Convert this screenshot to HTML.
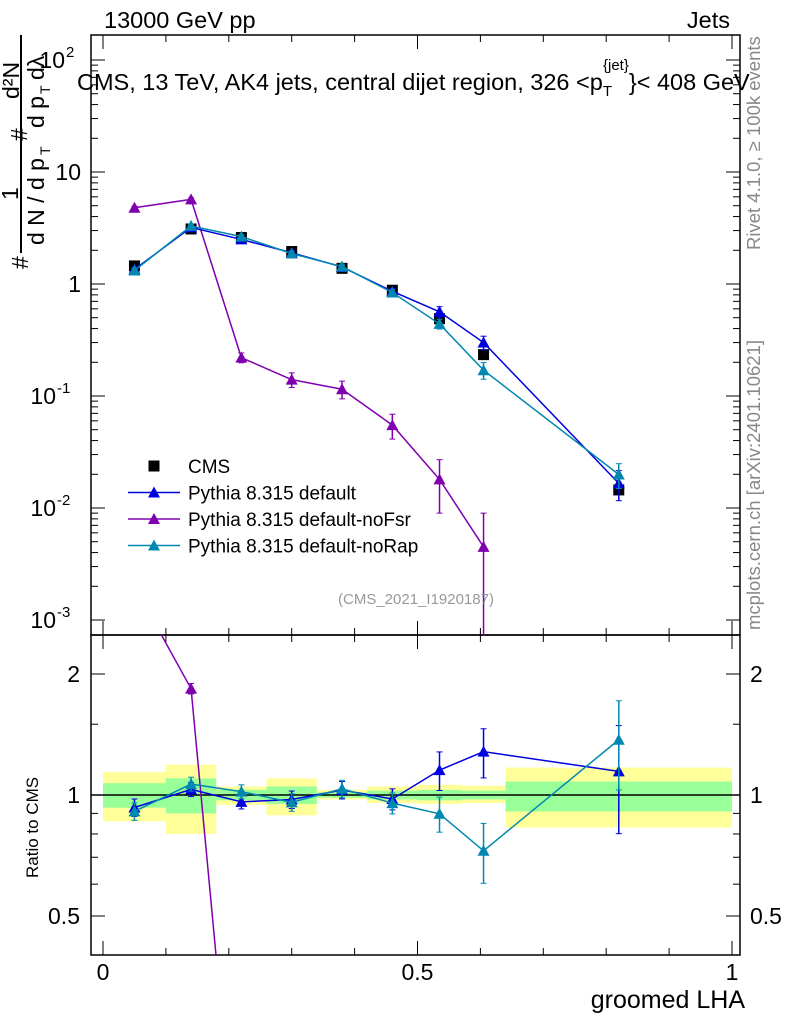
<!DOCTYPE html>
<html><head><meta charset="utf-8"><style>
html,body{margin:0;padding:0;background:#fff;overflow:hidden;width:786px;height:1024px}
svg{display:block;font-family:"Liberation Sans",sans-serif}
</style></head><body>
<svg id="c" width="786" height="1024" viewBox="0 0 786 1024"></svg>
<script>
const xs = [0.05,0.14,0.22,0.30,0.38,0.46,0.535,0.605,0.82];
const binEdges = [0,0.1,0.18,0.26,0.34,0.42,0.5,0.57,0.64,1.0];
const cms = [1.45,3.1,2.6,1.95,1.38,0.88,0.49,0.234,0.0145];
const pyDef = [1.35,3.2,2.5,1.9,1.42,0.86,0.565,0.30,0.0166];
const pyDefErr = [0.05,0.04,0.04,0.05,0.05,0.06,0.11,0.14,0.3];
const pyNoFsr = [4.8,5.7,0.22,0.14,0.115,0.055,0.018,0.0045,null];
const pyNoFsrErr = [0.03,0.03,0.1,0.15,0.18,0.25,0.5,1.0,1.0];
const pyNoRap = [1.32,3.3,2.65,1.87,1.43,0.84,0.44,0.17,0.0199];
const pyNoRapErr = [0.05,0.04,0.04,0.05,0.05,0.06,0.1,0.17,0.25];
const yelLo = [0.86,0.80,0.945,0.89,0.975,0.955,0.95,0.955,0.83];
const yelHi = [1.14,1.19,1.05,1.10,1.03,1.05,1.06,1.055,1.17];
const grnLo = [0.93,0.90,0.97,0.95,0.985,0.975,0.97,0.975,0.91];
const grnHi = [1.07,1.10,1.03,1.05,1.015,1.025,1.03,1.025,1.08];
const mainTicks = [["10","-3"],["10","-2"],["10","-1"],["1",""],["10",""],["10","2"]];
const ratioTicks = ["0.5","1","2"];
const xTicks = ["0","0.5","1"];

const NS="http://www.w3.org/2000/svg", svg=document.getElementById('c');
function el(t,a,p){const e=document.createElementNS(NS,t);for(const k in a)e.setAttribute(k,a[k]);(p||svg).appendChild(e);return e;}
const L=91,R=740,T=35,M=635,B=955;
const X=v=>103+v*629;
const Y=v=>60-(Math.log10(v)-2)*112;
const YR=v=>795-Math.log2(v)*121;

const defs=el('defs',{});
const c1=el('clipPath',{id:'cm'},defs);el('rect',{x:L,y:T,width:R-L,height:M-T},c1);
const c2=el('clipPath',{id:'cr'},defs);el('rect',{x:L,y:M,width:R-L,height:B-M},c2);

const gb=el('g',{'clip-path':'url(#cr)'});
for(let i=0;i<xs.length;i++){
  const x0=X(binEdges[i]),x1=X(binEdges[i+1]);
  const y=el('rect',{x:x0,y:YR(yelHi[i]),width:x1-x0,height:YR(yelLo[i])-YR(yelHi[i]),fill:'#ffff99'},gb);
  
  
  const g=el('rect',{x:x0,y:YR(grnHi[i]),width:x1-x0,height:YR(grnLo[i])-YR(grnHi[i]),fill:'#99ff99'},gb);
  
  
}
el('line',{x1:L,x2:R,y1:YR(1),y2:YR(1),stroke:'#000','stroke-width':1.5},gb);

const fr=el('rect',{x:L,y:T,width:R-L,height:M-T,fill:'none',stroke:'#000','stroke-width':1.5});

const fr2=el('rect',{x:L,y:M,width:R-L,height:B-M,fill:'none',stroke:'#000','stroke-width':1.5});


for(let d=-3;d<=2;d++){
  const y=Y(Math.pow(10,d));
  el('line',{x1:L,x2:L+14,y1:y,y2:y,stroke:'#000'});el('line',{x1:R-14,x2:R,y1:y,y2:y,stroke:'#000'});
  const t=mainTicks[d+3];
  const tx=el('text',{x:81,y:y+8,'font-size':23,'text-anchor':'end'});
  
  tx.textContent=t[0];
  if(t[1]){tx.setAttribute('x',d>=0?65:56);
    const s=el('text',{x:d>=0?66:57,y:y-3,'font-size':15});s.textContent=t[1];
    
  }
  for(let k=2;k<=9;k++){const v=k*Math.pow(10,d);const yy=Y(v);if(yy<T)continue;
    el('line',{x1:L,x2:L+7,y1:yy,y2:yy,stroke:'#000'});el('line',{x1:R-7,x2:R,y1:yy,y2:yy,stroke:'#000'});}
}
for(let i=0;i<=10;i++){const x=X(i/10),big=i%5==0;
  el('line',{x1:x,x2:x,y1:M,y2:M-(big?14:7),stroke:'#000'});el('line',{x1:x,x2:x,y1:T,y2:T+(big?14:7),stroke:'#000'});
  el('line',{x1:x,x2:x,y1:B,y2:B-(big?14:7),stroke:'#000'});el('line',{x1:x,x2:x,y1:M,y2:M+(big?14:7),stroke:'#000'});}
xTicks.forEach((s,i)=>{const t=el('text',{x:X(i*0.5),y:980,'font-size':23,'text-anchor':'middle'});t.textContent=s;
  });
[0.5,1,2].forEach((v,i)=>{const y=YR(v);
  el('line',{x1:L,x2:L+14,y1:y,y2:y,stroke:'#000'});el('line',{x1:R-14,x2:R,y1:y,y2:y,stroke:'#000'});
  const t=el('text',{x:80,y:y+8,'font-size':23,'text-anchor':'end'});t.textContent=ratioTicks[i];
  
  const t2=el('text',{x:750,y:y+8,'font-size':23});t2.textContent=ratioTicks[i];
  });
[0.6,0.7,0.8,0.9,1.5].forEach(v=>{const y=YR(v);el('line',{x1:L,x2:L+7,y1:y,y2:y,stroke:'#000'});el('line',{x1:R-7,x2:R,y1:y,y2:y,stroke:'#000'});});

function tri(g,x,y,c){el('polygon',{points:`${x},${y-6} ${x-6},${y+5} ${x+6},${y+5}`,fill:c},g);}
function series(vals,errs,color,name,isRatio){
  const g=el('g',{'clip-path':isRatio?'url(#cr)':'url(#cm)'});
  
  const pts=[];
  vals.forEach((v,i)=>{if(v==null)return;const val=isRatio?v/cms[i]:v;pts.push([X(xs[i]),isRatio?YR(val):Y(val),val,errs[i]]);});
  el('polyline',{points:pts.map(p=>p[0]+','+p[1]).join(' '),fill:'none',stroke:color,'stroke-width':1.5},g);
  pts.forEach(p=>{const e=p[3],v=p[2];const lo=Math.max(v*(1-e),1e-6),hi=v*(1+e);
    const y1=isRatio?YR(hi):Y(hi),y2=isRatio?YR(lo):Y(lo);
    el('line',{x1:p[0],x2:p[0],y1:y1,y2:y2,stroke:color,'stroke-width':1.5},g);
    el('line',{x1:p[0]-3,x2:p[0]+3,y1:y1,y2:y1,stroke:color},g);el('line',{x1:p[0]-3,x2:p[0]+3,y1:y2,y2:y2,stroke:color},g);
    tri(g,p[0],p[1],color);});
}
const gc=el('g',{'clip-path':'url(#cm)'});
cms.forEach((v,i)=>{el('rect',{x:X(xs[i])-5.5,y:Y(v)-5.5,width:11,height:11,fill:'#000'},gc);});
series(pyNoFsr,pyNoFsrErr,'#8000b0','pythia-nofsr-series',false);
series(pyDef,pyDefErr,'#0000e0','pythia-default-series',false);
series(pyNoRap,pyNoRapErr,'#0088b0','pythia-norap-series',false);
series(pyNoFsr,pyNoFsrErr,'#8000b0','pythia-nofsr-ratio',true);
series(pyDef,pyDefErr,'#0000e0','pythia-default-ratio',true);
series(pyNoRap,pyNoRapErr,'#0088b0','pythia-norap-ratio',true);

const lg=el('g',{});
el('rect',{x:148.5,y:460.5,width:11,height:11,fill:'#000'},lg);
[['CMS',null],['Pythia 8.315 default','#0000e0'],['Pythia 8.315 default-noFsr','#8000b0'],['Pythia 8.315 default-noRap','#0088b0']].forEach((e,i)=>{
  const y=466+i*26.5;
  if(e[1]){el('line',{x1:128,x2:180,y1:y,y2:y,stroke:e[1],'stroke-width':1.5},lg);tri(lg,154,y,e[1]);}
  const t=el('text',{x:188,y:y+7,'font-size':19},lg);t.textContent=e[0];
  });

function txt(s,a,name,p){const t=el('text',a,p);t.textContent=s;return t;}
txt('13000 GeV pp',{x:104,y:28,'font-size':23.5},'beam-label');
txt('Jets',{x:730,y:28,'font-size':23.5,'text-anchor':'end'},'process-label');
const tt=txt('CMS, 13 TeV, AK4 jets, central dijet region, 326 <p',{x:77,y:90,'font-size':23.5},'plot-title');
const ts=el('tspan',{dy:6,'font-size':15},tt);ts.textContent='T';
const ts2=el('tspan',{dy:-26,dx:-9,'font-size':15},tt);ts2.textContent='{jet}';
const ts3=el('tspan',{dy:20,'font-size':23.5},tt);ts3.textContent='}< 408 GeV';
txt('(CMS_2021_I1920187)',{x:416,y:604,'font-size':15,fill:'#999','text-anchor':'middle'},'analysis-id');
txt('groomed LHA',{x:745,y:1008,'font-size':25,'text-anchor':'end'},'x-axis-title');
txt('Ratio to CMS',{x:-878,y:38,'font-size':17,transform:'rotate(-90)'},'ratio-axis-title');
txt('Rivet 4.1.0, \u2265 100k events',{x:-250,y:760,'font-size':18.5,fill:'#888',transform:'rotate(-90)'},'rivet-label');
txt('mcplots.cern.ch [arXiv:2401.10621]',{x:-630,y:760,'font-size':18.5,fill:'#888',transform:'rotate(-90)'},'mcplots-label');
const ya=el('g',{transform:'rotate(-90)'});
el('line',{x1:-253,x2:-35,y1:21,y2:21,stroke:'#000','stroke-width':2},ya);
txt('#',{x:-269,y:28,'font-size':23},'y-title-hash',ya);
txt('1',{x:-200,y:18,'font-size':23},'y-title-one',ya);
txt('d N / d p',{x:-245,y:44,'font-size':23},'y-title-denominator',ya);
txt('T',{x:-155,y:50,'font-size':14},'y-title-sub',ya);
txt('#',{x:-141,y:27,'font-size':23},'y-title-hash2',ya);
txt('d²N',{x:-99,y:19,'font-size':23},'y-title-numerator',ya);
txt('d p',{x:-128,y:44,'font-size':23},'y-title-dp',ya);
txt('T',{x:-94,y:50,'font-size':14},'y-title-sub2',ya);
txt('d\u03bb',{x:-80,y:44,'font-size':23},'y-title-dlambda',ya);
</script>
</body></html>
